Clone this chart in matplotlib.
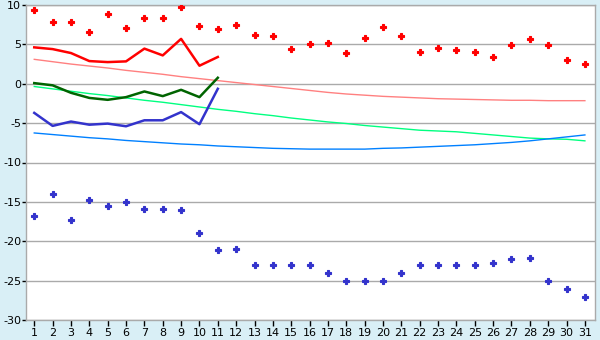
import matplotlib
matplotlib.use("Agg")
import matplotlib.pyplot as plt
import numpy as np

days = list(range(1, 32))

max_points = [9.4, 7.8, 7.8, 6.6, 8.9, 7.1, 8.4, 8.3, 9.7, 7.3, 6.9, 7.5, 6.2, 6.1, 4.4,
              5.1, 5.2, 3.9, 5.85, 7.25, 6.1, 4.05, 4.55, 4.3, 4.05, 3.4, 4.95, 5.7, 4.95, 3.05, 2.5]
min_points = [-16.75, -14.0, -17.25, -14.7, -15.5, -15.0, -15.9, -15.9, -16.0, -19.0, -21.05,
              -21.0, -23.0, -23.0, -23.0, -23.0, -24.0, -25.0, -25.0, -25.0, -24.0, -23.0,
              -23.0, -23.0, -23.0, -22.8, -22.2, -22.1, -25.0, -26.1, -27.1]

cur_days = list(range(1, 12))
cur_max = [4.62, 4.4, 3.9, 2.88, 2.75, 2.84, 4.46, 3.6, 5.7, 2.29, 3.4]
cur_mean = [0.08, -0.2, -1.15, -1.8, -2.04, -1.7, -0.98, -1.57, -0.77, -1.7, 0.76]
cur_min = [-3.7, -5.35, -4.8, -5.2, -5.06, -5.4, -4.64, -4.64, -3.6, -5.14, -0.64]

norm_max = [3.1, 2.8, 2.5, 2.25, 2.0, 1.7, 1.45, 1.2, 0.9, 0.65, 0.4, 0.15, -0.1, -0.35, -0.6,
            -0.85, -1.1, -1.3, -1.45, -1.6, -1.7, -1.8, -1.9, -1.95, -2.0, -2.05, -2.1, -2.1,
            -2.15, -2.15, -2.15]
norm_mean = [-0.35, -0.65, -0.95, -1.25, -1.5, -1.8, -2.1, -2.35, -2.65, -2.95, -3.25, -3.5,
             -3.8, -4.05, -4.35, -4.6, -4.85, -5.05, -5.3, -5.5, -5.7, -5.9, -6.0, -6.1, -6.3,
             -6.5, -6.7, -6.9, -7.0, -7.05, -7.25]
norm_min = [-6.25, -6.45, -6.65, -6.85, -7.0, -7.2, -7.35, -7.5, -7.65, -7.75, -7.9, -8.0,
            -8.1, -8.2, -8.25, -8.3, -8.3, -8.3, -8.3, -8.2, -8.15, -8.05, -7.95, -7.85, -7.75,
            -7.6, -7.45, -7.25, -7.0, -6.75, -6.5]

y_ticks = [-30, -25, -20, -15, -10, -5, 0, 5, 10]

fig = plt.figure(figsize=(6, 3.4), dpi=100)
fig.patch.set_facecolor('#d9eff6')
ax = fig.add_axes([26/600, 20/340, 569/600, 315/340])
ax.set_facecolor('white')

for y in y_ticks:
    ax.axhline(y, color='#aaaaaa', lw=1.0, zorder=1)

ax.plot(days, norm_max, color='#ff8080', lw=1.0, zorder=2)
ax.plot(days, norm_mean, color='#00ff80', lw=1.0, zorder=2)
ax.plot(days, norm_min, color='#0080ff', lw=1.0, zorder=2)

ax.plot(cur_days, cur_max, color='#ff0000', lw=1.8, zorder=3)
ax.plot(cur_days, cur_mean, color='#006400', lw=1.8, zorder=3)
ax.plot(cur_days, cur_min, color='#3333cc', lw=1.8, zorder=3)

ax.plot(days, max_points, ls='none', marker='P', ms=4.5, color='#ff0000', mec='#ff0000', mew=0.8, zorder=4)
ax.plot(days, min_points, ls='none', marker='P', ms=4.5, color='#3333cc', mec='#3333cc', mew=0.8, zorder=4)

ax.set_xlim(0.55, 31.55)
ax.set_ylim(-30, 10)
ax.set_xticks(days)
ax.set_xticklabels([str(d) for d in days])
ax.set_yticks(y_ticks)
ax.set_yticklabels([str(y) for y in y_ticks])
ax.tick_params(axis='both', labelsize=8, colors='black', length=4, width=1)
ax.tick_params(axis='x', pad=2)
ax.tick_params(axis='y', pad=0.5, length=3)
for s in ax.spines.values():
    s.set_color('#aaaaaa')
    s.set_linewidth(1.0)

fig.savefig('out.png', dpi=100, facecolor=fig.get_facecolor())
